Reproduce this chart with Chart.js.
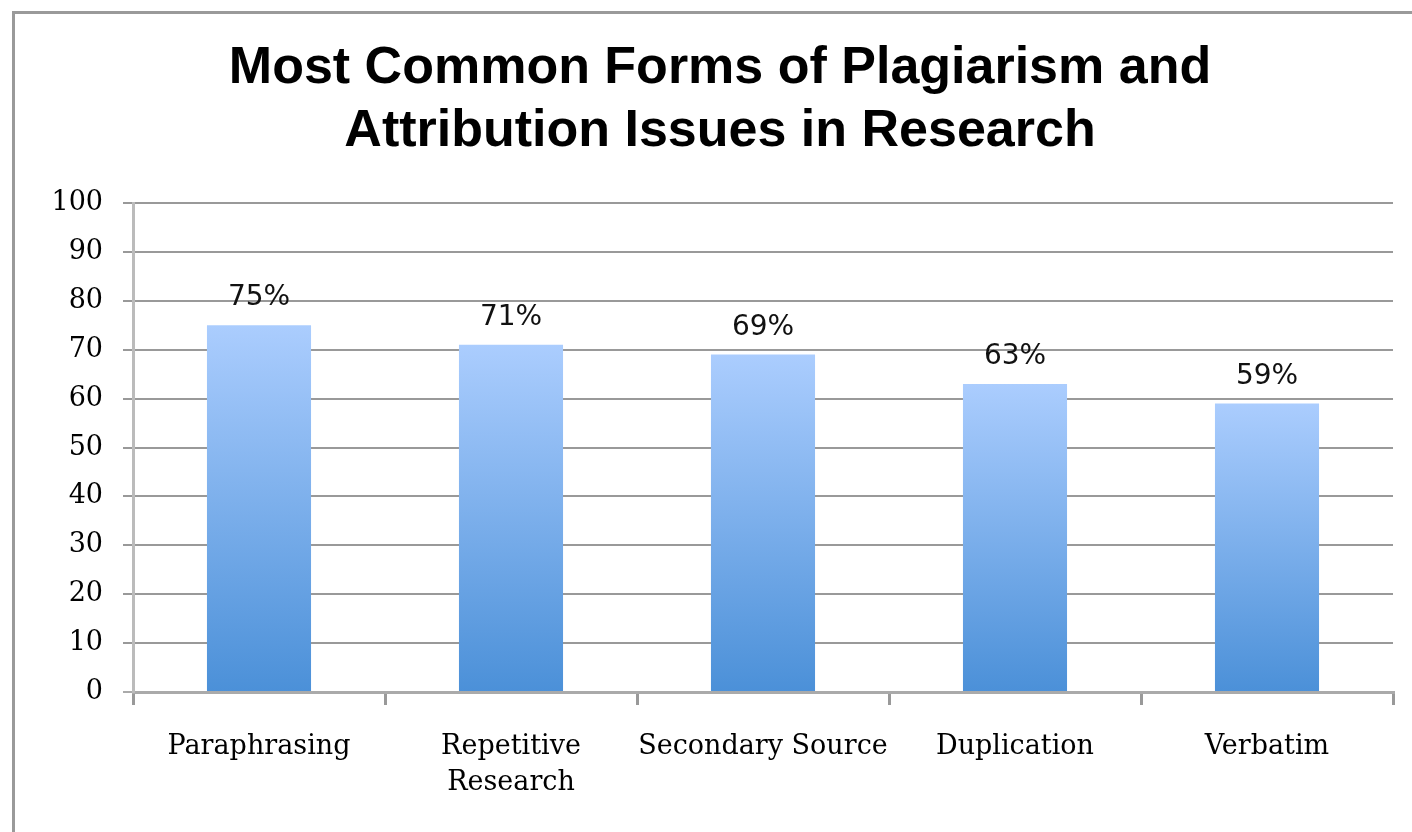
<!DOCTYPE html>
<html>
<head>
<meta charset="utf-8">
<script src="https://cdn.jsdelivr.net/npm/chart.js@4"></script>
<style>
    html, body { margin: 0; padding: 0; background: #fff; overflow: hidden; }
    #frame {
        position: absolute; left: 12px; top: 11px;
        width: 1500px; height: 900px;
        border: 3px solid #9a9a9a;
    }
    #chart { position: absolute; left: 0; top: 0; }
</style>
</head>
<body>
<div id="frame"></div>
<canvas id="chart" width="1412" height="832"></canvas>
<script>
const categories = ["Paraphrasing", ["Repetitive", "Research"], "Secondary Source", "Duplication", "Verbatim"];
const percentValues = [75, 71, 69, 63, 59];
const yTicks = [0, 10, 20, 30, 40, 50, 60, 70, 80, 90, 100];

// light-to-dark blue gradient per bar
function barFill(context) {
    const chart = context.chart;
    if (!chart.chartArea || context.raw === undefined) return "#7fb0ec";
    const y = chart.scales.y;
    const top = y.getPixelForValue(context.raw);
    const bottom = y.getPixelForValue(0);
    const g = chart.ctx.createLinearGradient(0, top, 0, bottom);
    g.addColorStop(0, "#abcdfe");
    g.addColorStop(1, "#4b90d8");
    return g;
}

const valueLabels = {
    id: "valueLabels",
    afterDatasetsDraw(chart) {
        const ctx = chart.ctx;
        const meta = chart.getDatasetMeta(0);
        ctx.save();
        ctx.font = "28px 'DejaVu Sans'";
        ctx.fillStyle = "#111";
        ctx.textAlign = "center";
        ctx.textBaseline = "alphabetic";
        meta.data.forEach(function (bar, i) {
            ctx.fillText(percentValues[i] + "%", bar.x, bar.y - 20);
        });
        ctx.restore();
    }
};

new Chart(document.getElementById("chart").getContext("2d"), {
    type: "bar",
    data: {
        labels: categories,
        datasets: [{
            data: percentValues,
            backgroundColor: barFill,
            borderWidth: 0,
            barPercentage: 0.413,
            categoryPercentage: 1
        }]
    },
    options: {
        responsive: false,
        animation: false,
        layout: { padding: { left: 47, right: 19, top: 0, bottom: 22 } },
        plugins: {
            legend: { display: false },
            tooltip: { enabled: false },
            title: {
                display: true,
                text: ["Most Common Forms of Plagiarism and", "Attribution Issues in Research"],
                color: "#000",
                font: { family: "'Liberation Sans', Arial", size: 52, weight: "bold", lineHeight: 1.212 },
                padding: { top: 37, bottom: 40 }
            }
        },
        scales: {
            x: {
                grid: {
                    drawOnChartArea: false,
                    drawTicks: true,
                    tickLength: 13,
                    color: "#999",
                    lineWidth: 3
                },
                border: { color: "#aaa", width: 3 },
                ticks: {
                    color: "#000",
                    font: { family: "'DejaVu Serif'", size: 27, lineHeight: 1.33 },
                    padding: 24,
                    maxRotation: 0,
                    autoSkip: false
                },
                afterFit(scale) { scale.height = 118; }
            },
            y: {
                min: 0,
                max: 100,
                afterBuildTicks(scale) { scale.ticks = yTicks.map(v => ({ value: v })); },
                grid: {
                    color: ctx => ctx.tick && ctx.tick.value === 0 ? "#aaa" : "#999",
                    lineWidth: 2,
                    tickLength: 10
                },
                border: { color: "#bbb", width: 3 },
                ticks: {
                    color: "#000",
                    font: { family: "'DejaVu Serif'", size: 27 },
                    padding: 20
                },
                afterFit(scale) { scale.width = 86; }
            }
        }
    },
    plugins: [valueLabels]
});
</script>
</body>
</html>
